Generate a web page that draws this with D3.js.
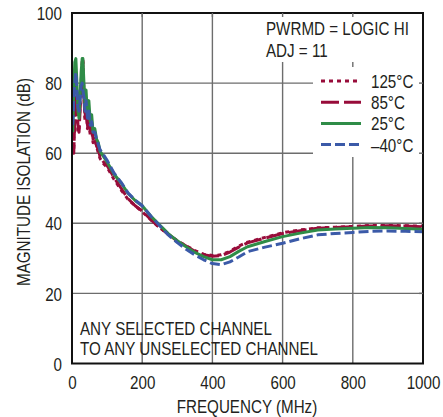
<!DOCTYPE html>
<html><head><meta charset="utf-8">
<script src="https://cdn.jsdelivr.net/npm/d3@7"></script>
<style>
body{margin:0;background:#fff;}
text{font-family:"Liberation Sans",Arial,sans-serif;fill:#231f20;}
</style></head>
<body><svg id="c" width="443" height="417"></svg>
<script>
const freq = [2,5,8,11,14,17,20,23,26,29,31,34,37,40,44,48,52,56,60,65,70,75,80,90,100,120,140,160,180,200,225,250,275,300,325,350,375,400,425,450,475,500,550,600,650,700,750,800,850,900,950,1000];
const iso125 = [63,61,68,78,72,66,67,74,80,86,87,77,69,73,67,70,65,67,63,64,62,60,58.5,57,56,52.5,49.5,46.8,45,43.3,41,38.7,36.8,35,33.6,32.2,31.2,30.8,31,32,33.5,34.6,36,37.3,38.1,38.7,38.9,39.1,39.4,39.4,39.3,39.2];
const iso85 = [62,60,70,80,74,68,66,72,78,84,86,76,70,74,68,71,66,68,64,65,62,61,59,57.5,56.5,53,50,47,45,43.5,41,38.8,36.8,35,33.5,32,31,30.6,30.8,31.8,33.2,34.4,35.8,37.1,37.9,38.6,38.8,39,39.2,39.3,39.2,39];
const iso25 = [66,78,86,87,80,72,70,76,83,87,87,80,73,78,71,75,69,71,66,67,64,63,60.5,59,57.5,54,51.5,48.5,46.5,45,42,39.5,37,35,33.3,31.7,30.5,29.6,29.6,30.5,32,33.3,34.8,36.2,37.2,38.1,38.4,38.6,38.8,38.7,38.5,38.3];
const isoM40 = [68,75,80,83,78,73,72,75,79,80,78,76,72,75,70,72,68,69,66,66,64,62.5,61,59.5,58,54.3,51.7,48.6,46.6,45,42,39.3,36.6,34.5,32.6,31,29.6,28.5,28.2,29,30.4,31.9,33.2,34.3,35.6,36.7,37.1,37.4,37.7,37.8,37.7,37.6];
const xTicks = [0,200,400,600,800,1000];
const yTicks = [0,20,40,60,80,100];
const seriesNames = ["125°C","85°C","25°C","\u201340°C"];
const seriesColors = ["#980c3a","#980c3a","#2f8c47","#3b5aa8"];
const seriesDash = ["4,4","18,5",null,"10,4"];
const seriesData = [iso125, iso85, iso25, isoM40];
const notes1 = ["PWRMD = LOGIC HI","ADJ = 11"];
const notes2 = ["ANY SELECTED CHANNEL","TO ANY UNSELECTED CHANNEL"];

const svg = d3.select("#c");
const L=72,R=423,T=13,B=363.5;
const x = d3.scaleLinear().domain([0,1000]).range([L,R]);
const y = d3.scaleLinear().domain([0,100]).range([B,T]);
const fs = 18.5;

// grid
const g = svg.append("g");
g.selectAll(".vg").data(xTicks.slice(1,-1)).join("line")
 .attr("x1",d=>x(d)).attr("x2",d=>x(d)).attr("y1",T).attr("y2",B)
 .attr("stroke","#6d6d6d").attr("stroke-width",1.4);
g.selectAll(".hg").data(yTicks.slice(1,-1)).join("line")
 .attr("x1",L).attr("x2",R).attr("y1",d=>y(d)).attr("y2",d=>y(d))
 .attr("stroke","#6d6d6d").attr("stroke-width",1.4);

// white label areas
svg.append("rect").attr("x",262).attr("y",T+1).attr("width",R-1-262).attr("height",62-T-1).attr("fill","#fff");
svg.append("rect").attr("x",313).attr("y",67).attr("width",R-1-313).attr("height",157-67).attr("fill","#fff");

// curves
const line = d3.line().x((d,i)=>x(freq[i])).y(d=>y(d));
seriesData.forEach((s,k)=>{
  svg.append("path").datum(s).attr("d",line).attr("fill","none")
   .attr("stroke",seriesColors[k]).attr("stroke-width",3)
   .attr("stroke-dasharray",seriesDash[k]).attr("stroke-linejoin","round");
});

// frame
svg.append("rect").attr("x",L).attr("y",T).attr("width",R-L).attr("height",B-T)
 .attr("fill","none").attr("stroke","#111").attr("stroke-width",2);
// inner ticks
xTicks.slice(1,-1).forEach(v=>{
  svg.append("line").attr("x1",x(v)).attr("x2",x(v)).attr("y1",T).attr("y2",T+4).attr("stroke","#6d6d6d").attr("stroke-width",1.4);
});
yTicks.slice(1,-1).forEach(v=>{
  svg.append("line").attr("x1",R-4).attr("x2",R).attr("y1",y(v)).attr("y2",y(v)).attr("stroke","#6d6d6d").attr("stroke-width",1.4);
});

// axes labels
const xAxis = d3.axisBottom(x).tickValues(xTicks).tickSize(0).tickPadding(0).tickFormat(d3.format("d"));
const xa = svg.append("g").attr("transform",`translate(0,${B})`).call(xAxis);
xa.select(".domain").remove();
xa.selectAll("text").attr("dy",null).attr("y",25.5).style("font-size",fs+"px").style("font-family",null).attr("fill","#231f20");
const yAxis = d3.axisLeft(y).tickValues(yTicks).tickSize(0).tickPadding(0).tickFormat(d3.format("d"));
const ya = svg.append("g").attr("transform",`translate(62,0)`).call(yAxis);
ya.select(".domain").remove();
ya.selectAll("text").attr("x",0).attr("dy","0.36em").style("font-size",fs+"px").style("font-family",null).attr("fill","#231f20");

svg.append("text").attr("x",247).attr("y",413).attr("text-anchor","middle").style("font-size",fs+"px").text("FREQUENCY (MHz)");
svg.append("text").attr("transform","translate(30,182) rotate(-90)").attr("text-anchor","middle").style("font-size",fs+"px").text("MAGNITUDE ISOLATION (dB)");

// notes
svg.selectAll(".n1").data(notes1).join("text").attr("x",266).attr("y",(d,i)=>35+i*21.7).style("font-size",fs+"px").text(d=>d);
svg.selectAll(".n2").data(notes2).join("text").attr("x",80).attr("y",(d,i)=>335+i*20).style("font-size",fs+"px").text(d=>d);

// legend
seriesNames.forEach((nm,k)=>{
  const ly = 81 + k*21.2;
  svg.append("line").attr("x1",321).attr("x2",361).attr("y1",ly).attr("y2",ly)
   .attr("stroke",seriesColors[k]).attr("stroke-width",3).attr("stroke-dasharray",seriesDash[k]);
  svg.append("text").attr("x",371).attr("y",ly+7).style("font-size",fs+"px").text(nm);
});

// condense all text horizontally (narrow face look)
svg.selectAll("text").each(function(){
  const w = this.getComputedTextLength();
  d3.select(this).attr("textLength", w*0.82).attr("lengthAdjust","spacingAndGlyphs");
});
</script></body></html>
